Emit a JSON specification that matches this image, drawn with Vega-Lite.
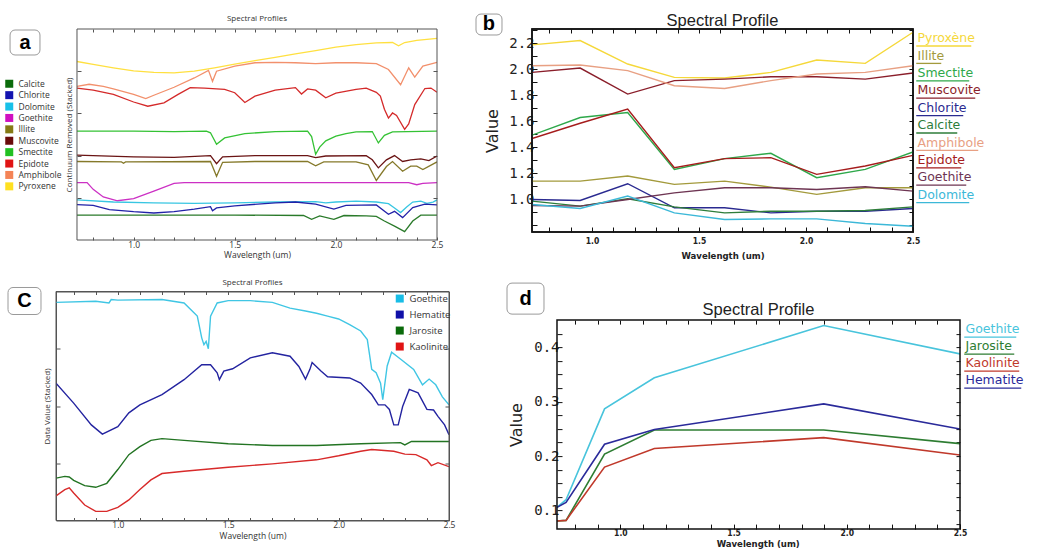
{
  "$schema": "https://vega.github.io/schema/vega-lite/v6.json",
  "background": "white",
  "padding": {"left": 5, "top": 12, "right": 5, "bottom": 5},
  "config": {"axis": {"grid": false, "domain": false}, "legend": {"padding": 0}},
  "datasets": {
    "a": [
      {"mineral":"Pyroxene","wavelength":0.72,"value":4.23},{"mineral":"Pyroxene","wavelength":0.8,"value":4.16},{"mineral":"Pyroxene","wavelength":0.9,"value":4.08},{"mineral":"Pyroxene","wavelength":1.0,"value":4.01},{"mineral":"Pyroxene","wavelength":1.1,"value":3.97},{"mineral":"Pyroxene","wavelength":1.2,"value":3.96},{"mineral":"Pyroxene","wavelength":1.3,"value":4.0},{"mineral":"Pyroxene","wavelength":1.4,"value":4.08},{"mineral":"Pyroxene","wavelength":1.5,"value":4.17},{"mineral":"Pyroxene","wavelength":1.6,"value":4.25},{"mineral":"Pyroxene","wavelength":1.7,"value":4.33},{"mineral":"Pyroxene","wavelength":1.8,"value":4.41},{"mineral":"Pyroxene","wavelength":1.9,"value":4.49},{"mineral":"Pyroxene","wavelength":2.0,"value":4.57},{"mineral":"Pyroxene","wavelength":2.1,"value":4.63},{"mineral":"Pyroxene","wavelength":2.2,"value":4.67},{"mineral":"Pyroxene","wavelength":2.28,"value":4.68},{"mineral":"Pyroxene","wavelength":2.31,"value":4.6},{"mineral":"Pyroxene","wavelength":2.34,"value":4.68},{"mineral":"Pyroxene","wavelength":2.4,"value":4.73},{"mineral":"Pyroxene","wavelength":2.5,"value":4.78},
      {"mineral":"Amphibole","wavelength":0.72,"value":3.64},{"mineral":"Amphibole","wavelength":0.78,"value":3.69},{"mineral":"Amphibole","wavelength":0.85,"value":3.64},{"mineral":"Amphibole","wavelength":0.9,"value":3.58},{"mineral":"Amphibole","wavelength":1.0,"value":3.45},{"mineral":"Amphibole","wavelength":1.06,"value":3.35},{"mineral":"Amphibole","wavelength":1.1,"value":3.43},{"mineral":"Amphibole","wavelength":1.2,"value":3.62},{"mineral":"Amphibole","wavelength":1.3,"value":3.84},{"mineral":"Amphibole","wavelength":1.37,"value":4.02},{"mineral":"Amphibole","wavelength":1.39,"value":3.76},{"mineral":"Amphibole","wavelength":1.41,"value":4.0},{"mineral":"Amphibole","wavelength":1.5,"value":4.12},{"mineral":"Amphibole","wavelength":1.6,"value":4.2},{"mineral":"Amphibole","wavelength":1.7,"value":4.21},{"mineral":"Amphibole","wavelength":1.8,"value":4.2},{"mineral":"Amphibole","wavelength":1.9,"value":4.18},{"mineral":"Amphibole","wavelength":2.0,"value":4.2},{"mineral":"Amphibole","wavelength":2.1,"value":4.2},{"mineral":"Amphibole","wavelength":2.2,"value":4.18},{"mineral":"Amphibole","wavelength":2.26,"value":4.04},{"mineral":"Amphibole","wavelength":2.32,"value":3.68},{"mineral":"Amphibole","wavelength":2.36,"value":4.08},{"mineral":"Amphibole","wavelength":2.39,"value":3.86},{"mineral":"Amphibole","wavelength":2.43,"value":4.12},{"mineral":"Amphibole","wavelength":2.5,"value":4.21},
      {"mineral":"Epidote","wavelength":0.72,"value":3.6},{"mineral":"Epidote","wavelength":0.8,"value":3.55},{"mineral":"Epidote","wavelength":0.9,"value":3.45},{"mineral":"Epidote","wavelength":1.0,"value":3.27},{"mineral":"Epidote","wavelength":1.07,"value":3.17},{"mineral":"Epidote","wavelength":1.15,"value":3.25},{"mineral":"Epidote","wavelength":1.22,"value":3.45},{"mineral":"Epidote","wavelength":1.28,"value":3.61},{"mineral":"Epidote","wavelength":1.35,"value":3.6},{"mineral":"Epidote","wavelength":1.45,"value":3.57},{"mineral":"Epidote","wavelength":1.5,"value":3.49},{"mineral":"Epidote","wavelength":1.55,"value":3.26},{"mineral":"Epidote","wavelength":1.6,"value":3.41},{"mineral":"Epidote","wavelength":1.7,"value":3.55},{"mineral":"Epidote","wavelength":1.8,"value":3.61},{"mineral":"Epidote","wavelength":1.83,"value":3.46},{"mineral":"Epidote","wavelength":1.86,"value":3.58},{"mineral":"Epidote","wavelength":1.9,"value":3.55},{"mineral":"Epidote","wavelength":1.95,"value":3.37},{"mineral":"Epidote","wavelength":2.0,"value":3.48},{"mineral":"Epidote","wavelength":2.1,"value":3.57},{"mineral":"Epidote","wavelength":2.15,"value":3.6},{"mineral":"Epidote","wavelength":2.2,"value":3.5},{"mineral":"Epidote","wavelength":2.22,"value":3.41},{"mineral":"Epidote","wavelength":2.24,"value":3.1},{"mineral":"Epidote","wavelength":2.26,"value":2.89},{"mineral":"Epidote","wavelength":2.28,"value":3.01},{"mineral":"Epidote","wavelength":2.3,"value":2.95},{"mineral":"Epidote","wavelength":2.34,"value":2.62},{"mineral":"Epidote","wavelength":2.36,"value":2.75},{"mineral":"Epidote","wavelength":2.39,"value":3.21},{"mineral":"Epidote","wavelength":2.44,"value":3.59},{"mineral":"Epidote","wavelength":2.47,"value":3.6},{"mineral":"Epidote","wavelength":2.5,"value":3.5},
      {"mineral":"Smectite","wavelength":0.72,"value":2.58},{"mineral":"Smectite","wavelength":1.0,"value":2.58},{"mineral":"Smectite","wavelength":1.2,"value":2.57},{"mineral":"Smectite","wavelength":1.36,"value":2.58},{"mineral":"Smectite","wavelength":1.38,"value":2.54},{"mineral":"Smectite","wavelength":1.41,"value":2.27},{"mineral":"Smectite","wavelength":1.45,"value":2.42},{"mineral":"Smectite","wavelength":1.55,"value":2.52},{"mineral":"Smectite","wavelength":1.7,"value":2.57},{"mineral":"Smectite","wavelength":1.86,"value":2.58},{"mineral":"Smectite","wavelength":1.88,"value":2.45},{"mineral":"Smectite","wavelength":1.9,"value":2.03},{"mineral":"Smectite","wavelength":1.92,"value":2.2},{"mineral":"Smectite","wavelength":1.95,"value":2.35},{"mineral":"Smectite","wavelength":2.0,"value":2.46},{"mineral":"Smectite","wavelength":2.05,"value":2.52},{"mineral":"Smectite","wavelength":2.1,"value":2.56},{"mineral":"Smectite","wavelength":2.18,"value":2.57},{"mineral":"Smectite","wavelength":2.21,"value":2.3},{"mineral":"Smectite","wavelength":2.24,"value":2.48},{"mineral":"Smectite","wavelength":2.28,"value":2.56},{"mineral":"Smectite","wavelength":2.5,"value":2.58},
      {"mineral":"Muscovite","wavelength":0.72,"value":2.01},{"mineral":"Muscovite","wavelength":1.0,"value":1.97},{"mineral":"Muscovite","wavelength":1.2,"value":1.96},{"mineral":"Muscovite","wavelength":1.38,"value":2.0},{"mineral":"Muscovite","wavelength":1.41,"value":1.81},{"mineral":"Muscovite","wavelength":1.44,"value":1.97},{"mineral":"Muscovite","wavelength":1.6,"value":2.0},{"mineral":"Muscovite","wavelength":1.86,"value":2.0},{"mineral":"Muscovite","wavelength":1.9,"value":1.95},{"mineral":"Muscovite","wavelength":1.95,"value":1.99},{"mineral":"Muscovite","wavelength":2.15,"value":2.0},{"mineral":"Muscovite","wavelength":2.18,"value":1.9},{"mineral":"Muscovite","wavelength":2.21,"value":1.71},{"mineral":"Muscovite","wavelength":2.25,"value":1.9},{"mineral":"Muscovite","wavelength":2.29,"value":2.0},{"mineral":"Muscovite","wavelength":2.33,"value":1.86},{"mineral":"Muscovite","wavelength":2.37,"value":1.9},{"mineral":"Muscovite","wavelength":2.42,"value":1.92},{"mineral":"Muscovite","wavelength":2.46,"value":1.88},{"mineral":"Muscovite","wavelength":2.5,"value":1.99},
      {"mineral":"Illite","wavelength":0.72,"value":1.86},{"mineral":"Illite","wavelength":0.94,"value":1.85},{"mineral":"Illite","wavelength":0.95,"value":1.82},{"mineral":"Illite","wavelength":0.96,"value":1.85},{"mineral":"Illite","wavelength":1.38,"value":1.86},{"mineral":"Illite","wavelength":1.41,"value":1.51},{"mineral":"Illite","wavelength":1.44,"value":1.84},{"mineral":"Illite","wavelength":1.6,"value":1.86},{"mineral":"Illite","wavelength":1.86,"value":1.86},{"mineral":"Illite","wavelength":1.9,"value":1.76},{"mineral":"Illite","wavelength":1.94,"value":1.85},{"mineral":"Illite","wavelength":2.1,"value":1.85},{"mineral":"Illite","wavelength":2.16,"value":1.78},{"mineral":"Illite","wavelength":2.2,"value":1.41},{"mineral":"Illite","wavelength":2.25,"value":1.74},{"mineral":"Illite","wavelength":2.28,"value":1.86},{"mineral":"Illite","wavelength":2.33,"value":1.63},{"mineral":"Illite","wavelength":2.37,"value":1.75},{"mineral":"Illite","wavelength":2.4,"value":1.75},{"mineral":"Illite","wavelength":2.43,"value":1.67},{"mineral":"Illite","wavelength":2.5,"value":1.85},
      {"mineral":"Goethite","wavelength":0.72,"value":1.36},{"mineral":"Goethite","wavelength":0.77,"value":1.36},{"mineral":"Goethite","wavelength":0.8,"value":1.2},{"mineral":"Goethite","wavelength":0.85,"value":1.02},{"mineral":"Goethite","wavelength":0.92,"value":0.93},{"mineral":"Goethite","wavelength":1.0,"value":0.98},{"mineral":"Goethite","wavelength":1.1,"value":1.16},{"mineral":"Goethite","wavelength":1.2,"value":1.34},{"mineral":"Goethite","wavelength":1.25,"value":1.36},{"mineral":"Goethite","wavelength":2.36,"value":1.36},{"mineral":"Goethite","wavelength":2.4,"value":1.31},{"mineral":"Goethite","wavelength":2.43,"value":1.34},{"mineral":"Goethite","wavelength":2.5,"value":1.36},
      {"mineral":"Dolomite","wavelength":0.72,"value":0.95},{"mineral":"Dolomite","wavelength":0.9,"value":0.9},{"mineral":"Dolomite","wavelength":1.1,"value":0.88},{"mineral":"Dolomite","wavelength":1.3,"value":0.87},{"mineral":"Dolomite","wavelength":1.5,"value":0.88},{"mineral":"Dolomite","wavelength":1.7,"value":0.9},{"mineral":"Dolomite","wavelength":1.9,"value":0.91},{"mineral":"Dolomite","wavelength":1.95,"value":0.88},{"mineral":"Dolomite","wavelength":2.0,"value":0.9},{"mineral":"Dolomite","wavelength":2.1,"value":0.92},{"mineral":"Dolomite","wavelength":2.2,"value":0.9},{"mineral":"Dolomite","wavelength":2.26,"value":0.86},{"mineral":"Dolomite","wavelength":2.29,"value":0.76},{"mineral":"Dolomite","wavelength":2.32,"value":0.65},{"mineral":"Dolomite","wavelength":2.35,"value":0.78},{"mineral":"Dolomite","wavelength":2.38,"value":0.9},{"mineral":"Dolomite","wavelength":2.42,"value":0.92},{"mineral":"Dolomite","wavelength":2.45,"value":0.87},{"mineral":"Dolomite","wavelength":2.48,"value":0.9},{"mineral":"Dolomite","wavelength":2.5,"value":0.95},
      {"mineral":"Chlorite","wavelength":0.72,"value":0.84},{"mineral":"Chlorite","wavelength":0.8,"value":0.82},{"mineral":"Chlorite","wavelength":0.88,"value":0.72},{"mineral":"Chlorite","wavelength":1.0,"value":0.67},{"mineral":"Chlorite","wavelength":1.1,"value":0.64},{"mineral":"Chlorite","wavelength":1.2,"value":0.67},{"mineral":"Chlorite","wavelength":1.3,"value":0.73},{"mineral":"Chlorite","wavelength":1.38,"value":0.79},{"mineral":"Chlorite","wavelength":1.39,"value":0.69},{"mineral":"Chlorite","wavelength":1.41,"value":0.76},{"mineral":"Chlorite","wavelength":1.5,"value":0.81},{"mineral":"Chlorite","wavelength":1.7,"value":0.88},{"mineral":"Chlorite","wavelength":1.8,"value":0.9},{"mineral":"Chlorite","wavelength":1.9,"value":0.85},{"mineral":"Chlorite","wavelength":1.99,"value":0.73},{"mineral":"Chlorite","wavelength":2.05,"value":0.82},{"mineral":"Chlorite","wavelength":2.2,"value":0.83},{"mineral":"Chlorite","wavelength":2.26,"value":0.61},{"mineral":"Chlorite","wavelength":2.29,"value":0.68},{"mineral":"Chlorite","wavelength":2.33,"value":0.53},{"mineral":"Chlorite","wavelength":2.38,"value":0.77},{"mineral":"Chlorite","wavelength":2.44,"value":0.85},{"mineral":"Chlorite","wavelength":2.5,"value":0.83},
      {"mineral":"Calcite","wavelength":0.72,"value":0.59},{"mineral":"Calcite","wavelength":1.5,"value":0.59},{"mineral":"Calcite","wavelength":1.84,"value":0.58},{"mineral":"Calcite","wavelength":1.88,"value":0.49},{"mineral":"Calcite","wavelength":1.92,"value":0.57},{"mineral":"Calcite","wavelength":1.99,"value":0.49},{"mineral":"Calcite","wavelength":2.04,"value":0.58},{"mineral":"Calcite","wavelength":2.15,"value":0.57},{"mineral":"Calcite","wavelength":2.2,"value":0.56},{"mineral":"Calcite","wavelength":2.24,"value":0.45},{"mineral":"Calcite","wavelength":2.29,"value":0.33},{"mineral":"Calcite","wavelength":2.34,"value":0.2},{"mineral":"Calcite","wavelength":2.38,"value":0.45},{"mineral":"Calcite","wavelength":2.42,"value":0.59},{"mineral":"Calcite","wavelength":2.5,"value":0.59}
    ],
    "b": [
      {"mineral":"Pyroxène","wavelength":0.72,"value":2.188},{"mineral":"Pyroxène","wavelength":0.945,"value":2.221},{"mineral":"Pyroxène","wavelength":1.167,"value":2.041},{"mineral":"Pyroxène","wavelength":1.385,"value":1.938},{"mineral":"Pyroxène","wavelength":1.62,"value":1.933},{"mineral":"Pyroxène","wavelength":1.836,"value":1.977},{"mineral":"Pyroxène","wavelength":2.05,"value":2.072},{"mineral":"Pyroxène","wavelength":2.277,"value":2.046},{"mineral":"Pyroxène","wavelength":2.5,"value":2.285},
      {"mineral":"Illite","wavelength":0.72,"value":1.141},{"mineral":"Illite","wavelength":0.945,"value":1.141},{"mineral":"Illite","wavelength":1.167,"value":1.18},{"mineral":"Illite","wavelength":1.385,"value":1.116},{"mineral":"Illite","wavelength":1.62,"value":1.141},{"mineral":"Illite","wavelength":1.836,"value":1.095},{"mineral":"Illite","wavelength":2.05,"value":1.039},{"mineral":"Illite","wavelength":2.277,"value":1.09},{"mineral":"Illite","wavelength":2.5,"value":1.09},
      {"mineral":"Smectite","wavelength":0.72,"value":1.494},{"mineral":"Smectite","wavelength":0.945,"value":1.63},{"mineral":"Smectite","wavelength":1.167,"value":1.668},{"mineral":"Smectite","wavelength":1.385,"value":1.231},{"mineral":"Smectite","wavelength":1.62,"value":1.314},{"mineral":"Smectite","wavelength":1.836,"value":1.355},{"mineral":"Smectite","wavelength":2.05,"value":1.167},{"mineral":"Smectite","wavelength":2.277,"value":1.231},{"mineral":"Smectite","wavelength":2.5,"value":1.365},
      {"mineral":"Muscovite","wavelength":0.72,"value":1.977},{"mineral":"Muscovite","wavelength":0.945,"value":2.01},{"mineral":"Muscovite","wavelength":1.167,"value":1.81},{"mineral":"Muscovite","wavelength":1.385,"value":1.913},{"mineral":"Muscovite","wavelength":1.62,"value":1.925},{"mineral":"Muscovite","wavelength":1.836,"value":1.943},{"mineral":"Muscovite","wavelength":2.05,"value":1.943},{"mineral":"Muscovite","wavelength":2.277,"value":1.925},{"mineral":"Muscovite","wavelength":2.5,"value":1.972},
      {"mineral":"Chlorite","wavelength":0.72,"value":1.0},{"mineral":"Chlorite","wavelength":0.945,"value":0.992},{"mineral":"Chlorite","wavelength":1.167,"value":1.121},{"mineral":"Chlorite","wavelength":1.385,"value":0.936},{"mineral":"Chlorite","wavelength":1.62,"value":0.936},{"mineral":"Chlorite","wavelength":1.836,"value":0.897},{"mineral":"Chlorite","wavelength":2.05,"value":0.91},{"mineral":"Chlorite","wavelength":2.277,"value":0.91},{"mineral":"Chlorite","wavelength":2.5,"value":0.931},
      {"mineral":"Calcite","wavelength":0.72,"value":0.987},{"mineral":"Calcite","wavelength":0.945,"value":0.949},{"mineral":"Calcite","wavelength":1.167,"value":1.005},{"mineral":"Calcite","wavelength":1.385,"value":0.943},{"mineral":"Calcite","wavelength":1.62,"value":0.897},{"mineral":"Calcite","wavelength":1.836,"value":0.91},{"mineral":"Calcite","wavelength":2.05,"value":0.91},{"mineral":"Calcite","wavelength":2.277,"value":0.915},{"mineral":"Calcite","wavelength":2.5,"value":0.943},
      {"mineral":"Amphibole","wavelength":0.72,"value":2.028},{"mineral":"Amphibole","wavelength":0.945,"value":2.033},{"mineral":"Amphibole","wavelength":1.167,"value":1.99},{"mineral":"Amphibole","wavelength":1.385,"value":1.874},{"mineral":"Amphibole","wavelength":1.62,"value":1.853},{"mineral":"Amphibole","wavelength":1.836,"value":1.913},{"mineral":"Amphibole","wavelength":2.05,"value":1.964},{"mineral":"Amphibole","wavelength":2.277,"value":1.977},{"mineral":"Amphibole","wavelength":2.5,"value":2.028},
      {"mineral":"Epidote","wavelength":0.72,"value":1.468},{"mineral":"Epidote","wavelength":0.945,"value":1.586},{"mineral":"Epidote","wavelength":1.167,"value":1.694},{"mineral":"Epidote","wavelength":1.385,"value":1.244},{"mineral":"Epidote","wavelength":1.62,"value":1.314},{"mineral":"Epidote","wavelength":1.836,"value":1.321},{"mineral":"Epidote","wavelength":2.05,"value":1.193},{"mineral":"Epidote","wavelength":2.277,"value":1.257},{"mineral":"Epidote","wavelength":2.5,"value":1.339},
      {"mineral":"Goethite","wavelength":0.72,"value":0.954},{"mineral":"Goethite","wavelength":0.945,"value":0.949},{"mineral":"Goethite","wavelength":1.167,"value":1.0},{"mineral":"Goethite","wavelength":1.385,"value":1.051},{"mineral":"Goethite","wavelength":1.62,"value":1.09},{"mineral":"Goethite","wavelength":1.836,"value":1.09},{"mineral":"Goethite","wavelength":2.05,"value":1.077},{"mineral":"Goethite","wavelength":2.277,"value":1.098},{"mineral":"Goethite","wavelength":2.5,"value":1.064},
      {"mineral":"Dolomite","wavelength":0.72,"value":0.961},{"mineral":"Dolomite","wavelength":0.945,"value":0.931},{"mineral":"Dolomite","wavelength":1.167,"value":1.026},{"mineral":"Dolomite","wavelength":1.385,"value":0.897},{"mineral":"Dolomite","wavelength":1.62,"value":0.846},{"mineral":"Dolomite","wavelength":1.836,"value":0.851},{"mineral":"Dolomite","wavelength":2.05,"value":0.851},{"mineral":"Dolomite","wavelength":2.277,"value":0.815},{"mineral":"Dolomite","wavelength":2.5,"value":0.794}
    ],
    "c": [
      {"mineral":"Goethite","wavelength":0.72,"value":3.81},{"mineral":"Goethite","wavelength":0.9,"value":3.83},{"mineral":"Goethite","wavelength":0.96,"value":3.8},{"mineral":"Goethite","wavelength":0.97,"value":3.86},{"mineral":"Goethite","wavelength":1.0,"value":3.85},{"mineral":"Goethite","wavelength":1.2,"value":3.86},{"mineral":"Goethite","wavelength":1.3,"value":3.8},{"mineral":"Goethite","wavelength":1.36,"value":3.57},{"mineral":"Goethite","wavelength":1.38,"value":3.19},{"mineral":"Goethite","wavelength":1.39,"value":3.07},{"mineral":"Goethite","wavelength":1.4,"value":3.13},{"mineral":"Goethite","wavelength":1.41,"value":3.0},{"mineral":"Goethite","wavelength":1.42,"value":3.57},{"mineral":"Goethite","wavelength":1.45,"value":3.8},{"mineral":"Goethite","wavelength":1.5,"value":3.84},{"mineral":"Goethite","wavelength":1.6,"value":3.84},{"mineral":"Goethite","wavelength":1.7,"value":3.81},{"mineral":"Goethite","wavelength":1.78,"value":3.71},{"mineral":"Goethite","wavelength":1.85,"value":3.66},{"mineral":"Goethite","wavelength":1.9,"value":3.62},{"mineral":"Goethite","wavelength":1.95,"value":3.57},{"mineral":"Goethite","wavelength":2.0,"value":3.52},{"mineral":"Goethite","wavelength":2.05,"value":3.42},{"mineral":"Goethite","wavelength":2.1,"value":3.31},{"mineral":"Goethite","wavelength":2.13,"value":3.16},{"mineral":"Goethite","wavelength":2.15,"value":2.64},{"mineral":"Goethite","wavelength":2.17,"value":2.58},{"mineral":"Goethite","wavelength":2.19,"value":2.4},{"mineral":"Goethite","wavelength":2.2,"value":2.11},{"mineral":"Goethite","wavelength":2.22,"value":2.7},{"mineral":"Goethite","wavelength":2.24,"value":2.94},{"mineral":"Goethite","wavelength":2.28,"value":2.82},{"mineral":"Goethite","wavelength":2.34,"value":2.64},{"mineral":"Goethite","wavelength":2.38,"value":2.37},{"mineral":"Goethite","wavelength":2.41,"value":2.47},{"mineral":"Goethite","wavelength":2.44,"value":2.37},{"mineral":"Goethite","wavelength":2.47,"value":2.16},{"mineral":"Goethite","wavelength":2.5,"value":2.02},
      {"mineral":"Hematite","wavelength":0.72,"value":2.4},{"mineral":"Hematite","wavelength":0.8,"value":2.05},{"mineral":"Hematite","wavelength":0.88,"value":1.67},{"mineral":"Hematite","wavelength":0.93,"value":1.51},{"mineral":"Hematite","wavelength":1.0,"value":1.64},{"mineral":"Hematite","wavelength":1.05,"value":1.88},{"mineral":"Hematite","wavelength":1.1,"value":2.02},{"mineral":"Hematite","wavelength":1.2,"value":2.2},{"mineral":"Hematite","wavelength":1.3,"value":2.46},{"mineral":"Hematite","wavelength":1.38,"value":2.72},{"mineral":"Hematite","wavelength":1.42,"value":2.72},{"mineral":"Hematite","wavelength":1.45,"value":2.58},{"mineral":"Hematite","wavelength":1.46,"value":2.46},{"mineral":"Hematite","wavelength":1.48,"value":2.61},{"mineral":"Hematite","wavelength":1.52,"value":2.65},{"mineral":"Hematite","wavelength":1.6,"value":2.84},{"mineral":"Hematite","wavelength":1.7,"value":2.93},{"mineral":"Hematite","wavelength":1.78,"value":2.87},{"mineral":"Hematite","wavelength":1.82,"value":2.69},{"mineral":"Hematite","wavelength":1.85,"value":2.47},{"mineral":"Hematite","wavelength":1.87,"value":2.64},{"mineral":"Hematite","wavelength":1.88,"value":2.76},{"mineral":"Hematite","wavelength":1.92,"value":2.61},{"mineral":"Hematite","wavelength":1.95,"value":2.51},{"mineral":"Hematite","wavelength":2.05,"value":2.49},{"mineral":"Hematite","wavelength":2.1,"value":2.4},{"mineral":"Hematite","wavelength":2.15,"value":2.2},{"mineral":"Hematite","wavelength":2.18,"value":2.02},{"mineral":"Hematite","wavelength":2.21,"value":2.02},{"mineral":"Hematite","wavelength":2.23,"value":1.94},{"mineral":"Hematite","wavelength":2.25,"value":1.67},{"mineral":"Hematite","wavelength":2.27,"value":1.67},{"mineral":"Hematite","wavelength":2.29,"value":1.99},{"mineral":"Hematite","wavelength":2.32,"value":2.29},{"mineral":"Hematite","wavelength":2.36,"value":2.23},{"mineral":"Hematite","wavelength":2.4,"value":1.94},{"mineral":"Hematite","wavelength":2.43,"value":1.93},{"mineral":"Hematite","wavelength":2.45,"value":1.82},{"mineral":"Hematite","wavelength":2.48,"value":1.67},{"mineral":"Hematite","wavelength":2.5,"value":1.5},
      {"mineral":"Jarosite","wavelength":0.72,"value":0.74},{"mineral":"Jarosite","wavelength":0.76,"value":0.77},{"mineral":"Jarosite","wavelength":0.78,"value":0.76},{"mineral":"Jarosite","wavelength":0.8,"value":0.7},{"mineral":"Jarosite","wavelength":0.85,"value":0.61},{"mineral":"Jarosite","wavelength":0.9,"value":0.58},{"mineral":"Jarosite","wavelength":0.95,"value":0.65},{"mineral":"Jarosite","wavelength":1.0,"value":0.89},{"mineral":"Jarosite","wavelength":1.05,"value":1.15},{"mineral":"Jarosite","wavelength":1.1,"value":1.29},{"mineral":"Jarosite","wavelength":1.15,"value":1.4},{"mineral":"Jarosite","wavelength":1.2,"value":1.43},{"mineral":"Jarosite","wavelength":1.3,"value":1.4},{"mineral":"Jarosite","wavelength":1.5,"value":1.34},{"mineral":"Jarosite","wavelength":1.7,"value":1.31},{"mineral":"Jarosite","wavelength":1.9,"value":1.31},{"mineral":"Jarosite","wavelength":2.1,"value":1.34},{"mineral":"Jarosite","wavelength":2.28,"value":1.36},{"mineral":"Jarosite","wavelength":2.3,"value":1.32},{"mineral":"Jarosite","wavelength":2.33,"value":1.38},{"mineral":"Jarosite","wavelength":2.5,"value":1.38},
      {"mineral":"Kaolinite","wavelength":0.72,"value":0.43},{"mineral":"Kaolinite","wavelength":0.76,"value":0.54},{"mineral":"Kaolinite","wavelength":0.78,"value":0.57},{"mineral":"Kaolinite","wavelength":0.8,"value":0.48},{"mineral":"Kaolinite","wavelength":0.85,"value":0.27},{"mineral":"Kaolinite","wavelength":0.9,"value":0.16},{"mineral":"Kaolinite","wavelength":0.95,"value":0.16},{"mineral":"Kaolinite","wavelength":1.0,"value":0.23},{"mineral":"Kaolinite","wavelength":1.05,"value":0.36},{"mineral":"Kaolinite","wavelength":1.1,"value":0.54},{"mineral":"Kaolinite","wavelength":1.15,"value":0.71},{"mineral":"Kaolinite","wavelength":1.2,"value":0.82},{"mineral":"Kaolinite","wavelength":1.3,"value":0.86},{"mineral":"Kaolinite","wavelength":1.5,"value":0.93},{"mineral":"Kaolinite","wavelength":1.7,"value":0.99},{"mineral":"Kaolinite","wavelength":1.9,"value":1.06},{"mineral":"Kaolinite","wavelength":2.0,"value":1.13},{"mineral":"Kaolinite","wavelength":2.1,"value":1.21},{"mineral":"Kaolinite","wavelength":2.15,"value":1.24},{"mineral":"Kaolinite","wavelength":2.25,"value":1.21},{"mineral":"Kaolinite","wavelength":2.3,"value":1.16},{"mineral":"Kaolinite","wavelength":2.35,"value":1.15},{"mineral":"Kaolinite","wavelength":2.4,"value":1.06},{"mineral":"Kaolinite","wavelength":2.42,"value":0.96},{"mineral":"Kaolinite","wavelength":2.45,"value":1.01},{"mineral":"Kaolinite","wavelength":2.5,"value":0.94}
    ],
    "d": [
      {"mineral":"Goethite","wavelength":0.72,"value":0.106},{"mineral":"Goethite","wavelength":0.76,"value":0.12},{"mineral":"Goethite","wavelength":0.93,"value":0.287},{"mineral":"Goethite","wavelength":1.15,"value":0.344},{"mineral":"Goethite","wavelength":1.898,"value":0.44},{"mineral":"Goethite","wavelength":2.5,"value":0.388},
      {"mineral":"Jarosite","wavelength":0.72,"value":0.081},{"mineral":"Jarosite","wavelength":0.76,"value":0.082},{"mineral":"Jarosite","wavelength":0.93,"value":0.204},{"mineral":"Jarosite","wavelength":1.15,"value":0.248},{"mineral":"Jarosite","wavelength":1.898,"value":0.248},{"mineral":"Jarosite","wavelength":2.5,"value":0.223},
      {"mineral":"Kaolinite","wavelength":0.72,"value":0.081},{"mineral":"Kaolinite","wavelength":0.76,"value":0.082},{"mineral":"Kaolinite","wavelength":0.93,"value":0.18},{"mineral":"Kaolinite","wavelength":1.15,"value":0.214},{"mineral":"Kaolinite","wavelength":1.898,"value":0.234},{"mineral":"Kaolinite","wavelength":2.5,"value":0.202},
      {"mineral":"Hematite","wavelength":0.72,"value":0.106},{"mineral":"Hematite","wavelength":0.76,"value":0.115},{"mineral":"Hematite","wavelength":0.93,"value":0.222},{"mineral":"Hematite","wavelength":1.15,"value":0.249},{"mineral":"Hematite","wavelength":1.898,"value":0.296},{"mineral":"Hematite","wavelength":2.5,"value":0.25}
    ]
  },
  "resolve": {"scale": {"x": "independent", "y": "independent", "color": "independent"}, "legend": {"color": "independent"}},
  "spacing": 18,
  "hconcat": [
    {
      "spacing": 18.5,
      "resolve": {"scale": {"x": "independent", "y": "independent", "color": "independent"}, "legend": {"color": "independent"}},
      "vconcat": [
        {
          "width": 381, "height": 211,
          "view": {"stroke": null},
          "title": {"text": "Spectral Profiles", "frame": "group", "font": "Open Sans", "fontSize": 8, "fontWeight": "normal", "color": "#333", "offset": 6, "dx": 10.5},
          "resolve": {"axis": {"x": "independent", "y": "independent"}},
          "layer": [
            {
              "data": {"name": "a"},
              "mark": {"type": "line", "strokeWidth": 1.3, "clip": true},
              "encoding": {
                "x": {"field": "wavelength", "type": "quantitative", "scale": {"domain": [0.6162, 2.5], "nice": false, "zero": false},
                  "axis": {"title": "Wavelength (um)", "titleX": 201, "values": [0.8,0.9,1.0,1.1,1.2,1.3,1.4,1.5,1.6,1.7,1.8,1.9,2.0,2.1,2.2,2.3,2.4,2.5], "labelExpr": "format(datum.value, '.1f')", "labelColor": {"condition": {"test": "round(datum.value*10) % 5 == 0", "value": "#333"}, "value": "transparent"}, "labelFlush": false, "labelOverlap": false, "tickSize": -3, "tickColor": "#555", "labelFont": "Open Sans", "labelFontSize": 8.5, "labelPadding": 3, "titleFont": "Open Sans", "titleFontSize": 8.5, "titleFontWeight": "normal", "titleColor": "#333", "titlePadding": 2}},
                "y": {"field": "value", "type": "quantitative", "scale": {"domain": [0, 5], "nice": false, "zero": false},
                  "axis": {"title": "Continuum Removed (Stacked)", "offset": -21, "values": [1,2,3,4], "labels": false, "tickSize": -4, "tickColor": "#555", "titleFont": "Open Sans", "titleFontSize": 8, "titleFontWeight": "normal", "titleColor": "#333", "titlePadding": 3}},
                "color": {"field": "mineral", "type": "nominal",
                  "scale": {"domain": ["Calcite","Chlorite","Dolomite","Goethite","Illite","Muscovite","Smectite","Epidote","Amphibole","Pyroxene"],
                            "range": ["#2a7a2a","#2222a8","#38c6e2","#cc30c4","#85792a","#6a1414","#34c234","#d42a2a","#f2906c","#ffe040"]},
                  "legend": {"orient": "none", "legendX": -51, "legendY": 50.5, "title": null, "symbolType": "square", "symbolSize": 64, "symbolStrokeWidth": 0,
                    "symbolFillColor": {"expr": "['#0b6b0b','#1414b0','#18c0e8','#d010c0','#857a14','#6a0a0a','#22c022','#e01414','#f48456','#ffe020'][indexof(['Calcite','Chlorite','Dolomite','Goethite','Illite','Muscovite','Smectite','Epidote','Amphibole','Pyroxene'], datum.label)]"},
                    "labelFont": "Open Sans", "labelFontSize": 8.5, "labelColor": "#333", "labelOffset": 5, "rowPadding": 2.4}}
              }
            },
            {
              "data": {"values": [{"panel": "a"}]},
              "mark": {"type": "rect", "fill": "transparent", "stroke": "#555", "strokeWidth": 1},
              "encoding": {
                "x": {"datum": 0.72, "axis": {"orient": "top", "title": null, "labels": false, "values": [0.8,0.9,1.0,1.1,1.2,1.3,1.4,1.5,1.6,1.7,1.8,1.9,2.0,2.1,2.2,2.3,2.4], "tickSize": -3, "tickColor": "#555", "minExtent": 0}},
                "x2": {"datum": 2.5},
                "y": {"datum": 0, "axis": {"orient": "right", "title": null, "labels": false, "values": [1,2,3,4], "tickSize": -4, "tickColor": "#555", "minExtent": 0}},
                "y2": {"datum": 5}
              }
            },
            {
              "data": {"values": [{"panel": "a"}]},
              "mark": {"type": "rect", "fill": "white", "stroke": "#9a9a9a", "strokeWidth": 1, "cornerRadius": 5},
              "encoding": {"x": {"datum": 0.389, "axis": null}, "x2": {"datum": 0.537}, "y": {"datum": 4.976, "axis": null}, "y2": {"datum": 4.384}}
            },
            {
              "data": {"values": [{"panel": "a"}]},
              "mark": {"type": "text", "font": "Liberation Sans", "fontSize": 20, "fontWeight": "bold", "color": "black"},
              "encoding": {"x": {"datum": 0.463, "axis": null}, "y": {"datum": 4.68, "axis": null}, "text": {"field": "panel"}}
            }
          ]
        },
        {
          "width": 393, "height": 229,
          "view": {"stroke": "#555", "strokeWidth": 1},
          "title": {"text": "Spectral Profiles", "frame": "group", "font": "Open Sans", "fontSize": 8, "fontWeight": "normal", "color": "#333", "offset": 0},
          "resolve": {"axis": {"x": "independent", "y": "independent"}},
          "layer": [
            {
              "data": {"name": "c"},
              "mark": {"type": "line", "strokeWidth": 1.4, "clip": true},
              "encoding": {
                "x": {"field": "wavelength", "type": "quantitative", "scale": {"domain": [0.72, 2.5], "nice": false, "zero": false},
                  "axis": {"title": "Wavelength (um)", "values": [0.8,0.9,1.0,1.1,1.2,1.3,1.4,1.5,1.6,1.7,1.8,1.9,2.0,2.1,2.2,2.3,2.4,2.5], "labelExpr": "format(datum.value, '.1f')", "labelColor": {"condition": {"test": "round(datum.value*10) % 5 == 0", "value": "#333"}, "value": "transparent"}, "labelFlush": false, "labelOverlap": false, "tickSize": -3, "tickColor": "#555", "labelFont": "Open Sans", "labelFontSize": 8.5, "labelPadding": 3, "titleFont": "Open Sans", "titleFontSize": 8.5, "titleFontWeight": "normal", "titleColor": "#333", "titlePadding": 2}},
                "y": {"field": "value", "type": "quantitative", "scale": {"domain": [0, 4], "nice": false, "zero": false},
                  "axis": {"title": "Data Value (Stacked)", "values": [1,2,3], "labels": false, "tickSize": -4, "tickColor": "#555", "titleFont": "Open Sans", "titleFontSize": 8, "titleFontWeight": "normal", "titleColor": "#333", "titlePadding": 4}},
                "color": {"field": "mineral", "type": "nominal",
                  "scale": {"domain": ["Goethite","Hematite","Jarosite","Kaolinite"], "range": ["#40c6e4","#2424a0","#237423","#d82a2a"]},
                  "legend": {"orient": "none", "legendX": 339, "legendY": 2.3, "title": null, "symbolType": "square", "symbolSize": 64, "symbolStrokeWidth": 0,
                    "symbolFillColor": {"expr": "['#18bde6','#1010a8','#0a6a0a','#e01414'][indexof(['Goethite','Hematite','Jarosite','Kaolinite'], datum.label)]"},
                    "labelFont": "Open Sans", "labelFontSize": 9.5, "labelColor": "#333", "labelOffset": 5, "rowPadding": 5}}
              }
            },
            {
              "data": {"values": [{"panel": "C"}]},
              "mark": {"type": "rect", "fill": "transparent", "stroke": "#555", "strokeWidth": 1},
              "encoding": {
                "x": {"datum": 0.72, "axis": {"orient": "top", "title": null, "labels": false, "values": [0.8,0.9,1.0,1.1,1.2,1.3,1.4,1.5,1.6,1.7,1.8,1.9,2.0,2.1,2.2,2.3,2.4], "tickSize": -3, "tickColor": "#555", "minExtent": 0}},
                "x2": {"datum": 2.5},
                "y": {"datum": 0, "axis": {"orient": "right", "title": null, "labels": false, "values": [1,2,3], "tickSize": -4, "tickColor": "#555", "minExtent": 0}},
                "y2": {"datum": 4}
              }
            },
            {
              "data": {"values": [{"panel": "C"}]},
              "mark": {"type": "rect", "fill": "white", "stroke": "#9a9a9a", "strokeWidth": 1, "cornerRadius": 5},
              "encoding": {"x": {"datum": 0.5026, "axis": null}, "x2": {"datum": 0.652}, "y": {"datum": 4.07, "axis": null}, "y2": {"datum": 3.598}}
            },
            {
              "data": {"values": [{"panel": "C"}]},
              "mark": {"type": "text", "font": "Liberation Sans", "fontSize": 20, "fontWeight": "bold", "color": "black"},
              "encoding": {"x": {"datum": 0.5773, "axis": null}, "y": {"datum": 3.834, "axis": null}, "text": {"field": "panel"}}
            }
          ]
        }
      ]
    },
    {
      "spacing": 21.1,
      "resolve": {"scale": {"x": "independent", "y": "independent", "color": "independent"}, "legend": {"color": "independent"}},
      "vconcat": [
        {
          "width": 381, "height": 203,
          "view": {"stroke": "#111", "strokeWidth": 1.5},
          "title": {"text": "Spectral Profile", "frame": "group", "font": "Liberation Sans", "fontSize": 16.5, "fontWeight": "normal", "color": "#222", "offset": -16.2},
          "resolve": {"axis": {"x": "independent", "y": "independent"}},
          "layer": [
            {
              "data": {"name": "b"},
              "mark": {"type": "line", "strokeWidth": 1.4, "clip": true},
              "encoding": {
                "x": {"field": "wavelength", "type": "quantitative", "scale": {"domain": [0.72, 2.5], "nice": false, "zero": false},
                  "axis": {"title": "Wavelength (um)", "values": [0.8,0.9,1.0,1.1,1.2,1.3,1.4,1.5,1.6,1.7,1.8,1.9,2.0,2.1,2.2,2.3,2.4,2.5], "labelExpr": "format(datum.value, '.1f')", "labelColor": {"condition": {"test": "round(datum.value*10) % 5 == 0", "value": "#222"}, "value": "transparent"}, "labelFlush": false, "labelOverlap": false, "tickSize": -5, "tickColor": "#111", "labelFont": "Liberation Sans Narrow, DejaVu Sans Condensed, Liberation Sans", "labelFontSize": 8.5, "labelFontWeight": "bold", "labelPadding": 9, "titleFont": "Liberation Sans Narrow, DejaVu Sans Condensed, Liberation Sans", "titleFontSize": 9.5, "titleFontWeight": "bold", "titleColor": "#222", "titlePadding": 6}},
                "y": {"field": "value", "type": "quantitative", "scale": {"domain": [0.75, 2.31], "nice": false, "zero": false},
                  "axis": {"title": "Value", "values": [0.8,0.9,1.0,1.1,1.2,1.3,1.4,1.5,1.6,1.7,1.8,1.9,2.0,2.1,2.2,2.3], "labelExpr": "format(datum.value, '.1f')", "labelColor": {"condition": {"test": "datum.value > 0.95 && round(datum.value*10) % 2 == 0", "value": "#222"}, "value": "transparent"}, "tickSize": -5, "tickColor": "#111", "labelFont": "DejaVu Sans Mono", "labelFontSize": 14, "labelPadding": 3, "titleFont": "DejaVu Sans", "titleFontSize": 16, "titleFontWeight": "normal", "titleColor": "#222", "titlePadding": 8}},
                "color": {"field": "mineral", "type": "nominal",
                  "scale": {"domain": ["Pyroxène","Illite","Smectite","Muscovite","Chlorite","Calcite","Amphibole","Epidote","Goethite","Dolomite"],
                            "range": ["#f5d83a","#a39a3c","#2ea84a","#8a1e2a","#2a2a90","#2e7d3a","#e8a083","#a51c1c","#6e3553","#3cb8d8"]},
                  "legend": {"orient": "right", "offset": -2, "padding": 3, "title": null, "labelFont": "DejaVu Sans", "labelFontSize": 12.5, "labelOffset": -10,
                    "labelColor": {"expr": "['#f5d83a','#a39a3c','#2ea84a','#8a1e2a','#2a2a90','#2e7d3a','#e8a083','#a51c1c','#6e3553','#3cb8d8'][indexof(['Pyroxène','Illite','Smectite','Muscovite','Chlorite','Calcite','Amphibole','Epidote','Goethite','Dolomite'], datum.label)]"},
                    "symbolType": {"expr": "'M-1,1.55H' + (-1 + [55,25,53,59,47,41,62,45,50,53][indexof(['Pyroxène','Illite','Smectite','Muscovite','Chlorite','Calcite','Amphibole','Epidote','Goethite','Dolomite'], datum.label)] / 5)"},
                    "symbolSize": 100, "symbolStrokeWidth": 1.3, "rowPadding": 0.4}}
              }
            },
            {
              "data": {"values": [{"panel": "b"}]},
              "mark": {"type": "rect", "fill": "transparent", "stroke": "#111", "strokeWidth": 1.5},
              "encoding": {
                "x": {"datum": 0.72, "axis": {"orient": "top", "title": null, "labels": false, "values": [0.8,0.9,1.0,1.1,1.2,1.3,1.4,1.5,1.6,1.7,1.8,1.9,2.0,2.1,2.2,2.3,2.4], "tickSize": -4, "tickColor": "#111", "minExtent": 0}},
                "x2": {"datum": 2.5},
                "y": {"datum": 0.75, "axis": {"orient": "right", "title": null, "labels": false, "values": [0.8,0.9,1.0,1.1,1.2,1.3,1.4,1.5,1.6,1.7,1.8,1.9,2.0,2.1,2.2,2.3], "tickSize": -4, "tickColor": "#111", "minExtent": 0}},
                "y2": {"datum": 2.31}
              }
            },
            {
              "data": {"values": [{"panel": "b"}]},
              "mark": {"type": "rect", "fill": "white", "stroke": "#9a9a9a", "strokeWidth": 1, "cornerRadius": 5},
              "encoding": {"x": {"datum": 0.4584, "axis": null}, "x2": {"datum": 0.5798}, "y": {"datum": 2.425, "axis": null}, "y2": {"datum": 2.264}}
            },
            {
              "data": {"values": [{"panel": "b"}]},
              "mark": {"type": "text", "font": "Liberation Sans", "fontSize": 20, "fontWeight": "bold", "color": "black"},
              "encoding": {"x": {"datum": 0.519, "axis": null}, "y": {"datum": 2.345, "axis": null}, "text": {"field": "panel"}}
            }
          ]
        },
        {
          "width": 428, "height": 209,
          "view": {"stroke": null},
          "title": {"text": "Spectral Profile", "frame": "group", "font": "Liberation Sans", "fontSize": 16.5, "fontWeight": "normal", "color": "#222", "offset": -35.6, "dx": 12.5},
          "resolve": {"axis": {"x": "independent", "y": "independent"}},
          "layer": [
            {
              "data": {"name": "d"},
              "mark": {"type": "line", "strokeWidth": 1.6, "clip": true},
              "encoding": {
                "x": {"field": "wavelength", "type": "quantitative", "scale": {"domain": [0.6096, 2.5], "nice": false, "zero": false},
                  "axis": {"title": "Wavelength (um)", "titleX": 225.7, "values": [0.8,0.9,1.0,1.1,1.2,1.3,1.4,1.5,1.6,1.7,1.8,1.9,2.0,2.1,2.2,2.3,2.4,2.5], "labelExpr": "format(datum.value, '.1f')", "labelColor": {"condition": {"test": "round(datum.value*10) % 5 == 0", "value": "#222"}, "value": "transparent"}, "labelFlush": false, "labelOverlap": false, "tickSize": -5, "tickColor": "#111", "labelFont": "Liberation Sans Narrow, DejaVu Sans Condensed, Liberation Sans", "labelFontSize": 8.5, "labelFontWeight": "bold", "labelPadding": 4, "titleFont": "Liberation Sans Narrow, DejaVu Sans Condensed, Liberation Sans", "titleFontSize": 9.5, "titleFontWeight": "bold", "titleColor": "#222", "titlePadding": 2}},
                "y": {"field": "value", "type": "quantitative", "scale": {"domain": [0.066, 0.45], "nice": false, "zero": false},
                  "axis": {"title": "Value", "offset": -25, "values": [0.1,0.125,0.15,0.175,0.2,0.225,0.25,0.275,0.3,0.325,0.35,0.375,0.4,0.425], "labelExpr": "format(datum.value, '.1f')", "labelColor": {"condition": {"test": "abs(datum.value*10 - round(datum.value*10)) < 0.001", "value": "#222"}, "value": "transparent"}, "tickSize": -5, "tickColor": "#111", "labelFont": "DejaVu Sans Mono", "labelFontSize": 14, "labelPadding": 3, "titleFont": "DejaVu Sans", "titleFontSize": 16, "titleFontWeight": "normal", "titleColor": "#222", "titlePadding": 9}},
                "color": {"field": "mineral", "type": "nominal",
                  "scale": {"domain": ["Goethite","Jarosite","Kaolinite","Hematite"], "range": ["#48c4dc","#2e7d32","#c0392b","#2a2a9a"]},
                  "legend": {"orient": "right", "offset": -1, "padding": 3, "title": null, "labelFont": "DejaVu Sans", "labelFontSize": 12.5, "labelOffset": -10,
                    "labelColor": {"expr": "['#48c4dc','#2e7d32','#c0392b','#2a2a9a'][indexof(['Goethite','Jarosite','Kaolinite','Hematite'], datum.label)]"},
                    "symbolType": {"expr": "'M-1,1.55H' + (-1 + [52,50,55,57][indexof(['Goethite','Jarosite','Kaolinite','Hematite'], datum.label)] / 5)"},
                    "symbolSize": 100, "symbolStrokeWidth": 1.3, "rowPadding": -2}}
              }
            },
            {
              "data": {"values": [{"panel": "d"}]},
              "mark": {"type": "rect", "fill": "transparent", "stroke": "#111", "strokeWidth": 1.5},
              "encoding": {
                "x": {"datum": 0.72, "axis": {"orient": "top", "title": null, "labels": false, "values": [0.8,0.9,1.0,1.1,1.2,1.3,1.4,1.5,1.6,1.7,1.8,1.9,2.0,2.1,2.2,2.3,2.4], "tickSize": -4, "tickColor": "#111", "minExtent": 0}},
                "x2": {"datum": 2.5},
                "y": {"datum": 0.066, "axis": {"orient": "right", "title": null, "labels": false, "values": [0.075,0.1,0.125,0.15,0.175,0.2,0.225,0.25,0.275,0.3,0.325,0.35,0.375,0.4,0.425], "tickSize": -4, "tickColor": "#111", "minExtent": 0}},
                "y2": {"datum": 0.45}
              }
            },
            {
              "data": {"values": [{"panel": "d"}]},
              "mark": {"type": "rect", "fill": "white", "stroke": "#9a9a9a", "strokeWidth": 1, "cornerRadius": 5},
              "encoding": {"x": {"datum": 0.4992, "axis": null}, "x2": {"datum": 0.6626}, "y": {"datum": 0.518, "axis": null}, "y2": {"datum": 0.461}}
            },
            {
              "data": {"values": [{"panel": "d"}]},
              "mark": {"type": "text", "font": "Liberation Sans", "fontSize": 20, "fontWeight": "bold", "color": "black"},
              "encoding": {"x": {"datum": 0.5809, "axis": null}, "y": {"datum": 0.4895, "axis": null}, "text": {"field": "panel"}}
            }
          ]
        }
      ]
    }
  ]
}
